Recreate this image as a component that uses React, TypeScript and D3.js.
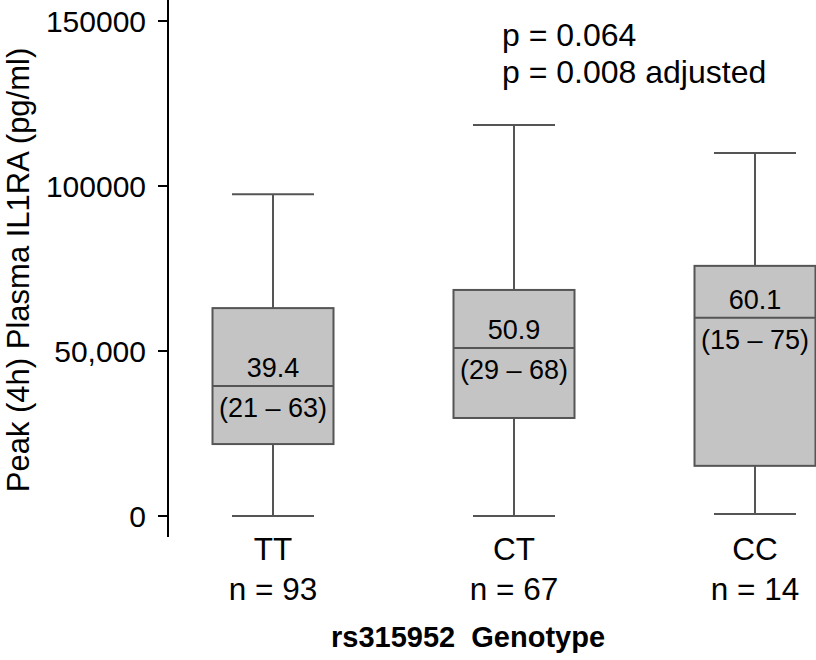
import React from "react";
import * as d3 from "d3";

// genotype groups and box stats (pg/ml)
const genotypes = ["TT", "CT", "CC"];
const counts = ["n = 93", "n = 67", "n = 14"];
const whiskerLow = [0, 0, 600];
const q1 = [21800, 29700, 15200];
const medians = [39400, 50900, 60100];
const q3 = [63000, 68500, 75800];
const whiskerHigh = [97500, 118500, 110000];
const medianLabels = ["39.4", "50.9", "60.1"];
const rangeLabels = ["(21 – 63)", "(29 – 68)", "(15 – 75)"];

const yTicks = [0, 50000, 100000, 150000];
const yTickLabels = ["0", "50,000", "100000", "150000"];

const W = 816, H = 660;
const axisX = 168;
const font = "'Liberation Sans', Arial, Helvetica, sans-serif";
const boxFill = "#c4c4c4";
const boxStroke = "#555555";

export default function App() {
  const y = d3.scaleLinear().domain([0, 150000]).range([516, 21]);
  const x = d3.scalePoint<string>().domain(genotypes).range([273, 755]);
  const boxW = 121;
  const capW = 82;

  return (
    <svg width={W} height={H} style={{ position: "absolute", left: 0, top: 0, background: "#fff" }}
      fontFamily={font}>
      {/* y axis */}
      <line x1={axisX} x2={axisX} y1={0} y2={537} stroke="#000" strokeWidth={2} />
      {yTicks.map((t, i) => (
        <g key={t}>
          <line x1={axisX - 10} x2={axisX} y1={y(t)} y2={y(t)} stroke="#000" strokeWidth={2} />
          <text x={146} y={y(t)} dy="0.36em" textAnchor="end" fontSize={30}>{yTickLabels[i]}</text>
        </g>
      ))}
      <text transform={`translate(29, 270) rotate(-90)`} textAnchor="middle" fontSize={31}>
        Peak (4h) Plasma IL1RA (pg/ml)
      </text>

      {/* boxes */}
      {genotypes.map((g, i) => {
        const cx = x(g) as number;
        return (
          <g key={g}>
            <line x1={cx} x2={cx} y1={y(whiskerHigh[i])} y2={y(q3[i])} stroke={boxStroke} strokeWidth={2} />
            <line x1={cx} x2={cx} y1={y(q1[i])} y2={y(whiskerLow[i])} stroke={boxStroke} strokeWidth={2} />
            <line x1={cx - capW / 2} x2={cx + capW / 2} y1={y(whiskerHigh[i])} y2={y(whiskerHigh[i])}
              stroke={boxStroke} strokeWidth={2} />
            <line x1={cx - capW / 2} x2={cx + capW / 2} y1={y(whiskerLow[i])} y2={y(whiskerLow[i])}
              stroke={boxStroke} strokeWidth={2} />
            <rect x={cx - boxW / 2} y={y(q3[i])} width={boxW} height={y(q1[i]) - y(q3[i])}
              fill={boxFill} stroke={boxStroke} strokeWidth={2} />
            <line x1={cx - boxW / 2} x2={cx + boxW / 2} y1={y(medians[i])} y2={y(medians[i])}
              stroke={boxStroke} strokeWidth={2} />
            <text x={cx} y={y(medians[i]) - 9} textAnchor="middle" fontSize={27}>{medianLabels[i]}</text>
            <text x={cx} y={y(medians[i]) + 31} textAnchor="middle" fontSize={27}>{rangeLabels[i]}</text>
            <text x={cx} y={560} textAnchor="middle" fontSize={31.5}>{g}</text>
            <text x={cx} y={600} textAnchor="middle" fontSize={31.5}>{counts[i]}</text>
          </g>
        );
      })}

      {/* p values */}
      <text x={502} y={46} fontSize={32}>p = 0.064</text>
      <text x={502} y={83} fontSize={32}>p = 0.008 adjusted</text>

      {/* x title */}
      <text x={468} y={647} textAnchor="middle" fontSize={29} fontWeight="bold"
        style={{ whiteSpace: "pre" }}>rs315952  Genotype</text>
    </svg>
  );
}
